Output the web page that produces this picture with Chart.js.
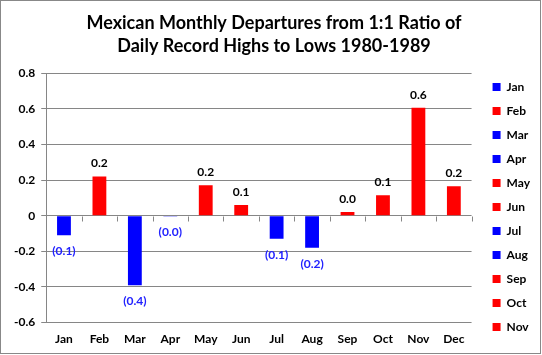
<!DOCTYPE html>
<html>
<head>
<meta charset="utf-8">
<script src="https://cdn.jsdelivr.net/npm/chart.js@4"></script>
<style>
  html, body { margin: 0; padding: 0; background: #fff; }
  #wrap { width: 542px; height: 355px; position: relative; }
</style>
</head>
<body>
<div id="wrap"><canvas id="c" width="542" height="355"></canvas></div>
<script>
const titleLines = ["Mexican Monthly Departures from 1:1 Ratio of", "Daily Record Highs to Lows 1980-1989"];
const categories = ["Jan", "Feb", "Mar", "Apr", "May", "Jun", "Jul", "Aug", "Sep", "Oct", "Nov", "Dec"];
const departures = [-0.11, 0.22, -0.39, -0.005, 0.17, 0.06, -0.13, -0.18, 0.02, 0.115, 0.605, 0.165];
const yTicks = [-0.6, -0.4, -0.2, 0, 0.2, 0.4, 0.6, 0.8];
const legendShown = ["Jan", "Feb", "Mar", "Apr", "May", "Jun", "Jul", "Aug", "Sep", "Oct", "Nov"];

const POS = '#FF0000', NEG = '#0000FF', GRID = '#868686';
const FONT = 'Lato, "Open Sans", sans-serif';
const colors = departures.map(v => v >= 0 ? POS : NEG);

const frame = {
  id: 'frame',
  beforeDraw(chart) {
    const ctx = chart.ctx;
    ctx.save();
    ctx.fillStyle = '#fff';
    ctx.fillRect(0, 0, chart.width, chart.height);
    ctx.restore();
  },
  afterDraw(chart) {
    const ctx = chart.ctx;
    ctx.save();
    ctx.strokeStyle = '#888';
    ctx.lineWidth = 1;
    ctx.strokeRect(0.5, 0.5, chart.width - 2, chart.height - 2);
    ctx.restore();
  }
};

const zeroTicks = {
  id: 'zeroTicks',
  afterDatasetsDraw(chart) {
    const {ctx, chartArea, scales} = chart;
    const y0 = Math.round(scales.y.getPixelForValue(0)) + 0.5;
    const n = categories.length;
    const w = (chartArea.right - chartArea.left) / n;
    ctx.save();
    ctx.strokeStyle = GRID;
    ctx.lineWidth = 1;
    ctx.beginPath();
    for (let i = 1; i <= n; i++) {
      const x = Math.round(chartArea.left + i * w) + 0.5;
      ctx.moveTo(x, y0);
      ctx.lineTo(x, y0 + 5);
    }
    ctx.stroke();
    ctx.restore();
  }
};

const valueLabels = {
  id: 'valueLabels',
  afterDatasetsDraw(chart) {
    const ctx = chart.ctx;
    const meta = chart.getDatasetMeta(0);
    ctx.save();
    ctx.font = 'bold 12px ' + FONT;
    ctx.textAlign = 'center';
    ctx.textBaseline = 'middle';
    meta.data.forEach((bar, i) => {
      const v = departures[i];
      if (v >= 0) {
        ctx.fillStyle = '#000';
        ctx.fillText(v.toFixed(1), bar.x, bar.y - 13);
      } else {
        ctx.fillStyle = '#2222ff';
        ctx.fillText('(' + Math.abs(v).toFixed(1) + ')', bar.x, bar.y + 16);
      }
    });
    ctx.restore();
  }
};

new Chart(document.getElementById('c'), {
  type: 'bar',
  data: {
    labels: categories,
    datasets: [{
      data: departures,
      backgroundColor: colors,
      borderWidth: 0,
      barPercentage: 0.39,
      categoryPercentage: 1.0
    }]
  },
  options: {
    responsive: false,
    animation: false,
    devicePixelRatio: 1,
    layout: { padding: { left: 8, right: 2, top: 0, bottom: 8 } },
    plugins: {
      title: {
        display: true,
        text: titleLines,
        color: '#000',
        font: { family: FONT, size: 18, weight: 'bold', lineHeight: 1.28 },
        padding: { top: 12, bottom: 15 }
      },
      legend: {
        position: 'right',
        align: 'start',
        title: {
          display: true,
          text: '',
          font: { family: FONT, size: 12, lineHeight: 1 },
          padding: { top: 57, bottom: 0 }
        },
        labels: {
          color: '#000',
          font: { family: FONT, size: 12, weight: 'bold' },
          boxWidth: 8,
          boxHeight: 8,
          padding: 12,
          generateLabels: () => legendShown.map(name => {
            const i = categories.indexOf(name);
            return { text: name, fillStyle: colors[i], strokeStyle: colors[i], fontColor: '#000', lineWidth: 0, hidden: false, index: i };
          })
        }
      },
      tooltip: { enabled: false }
    },
    scales: {
      x: {
        grid: { display: false },
        border: { display: false },
        ticks: { color: '#000', font: { family: FONT, size: 12, weight: 'bold' }, padding: 1 }
      },
      y: {
        min: -0.6,
        max: 0.8,
        afterBuildTicks: (axis) => { axis.ticks = yTicks.map(v => ({ value: v })); },
        grid: { color: GRID, tickLength: 5 },
        border: { color: GRID },
        ticks: { color: '#000', font: { family: FONT, size: 12, weight: 'bold' }, padding: 6 }
      },
      yGap: {
        type: 'linear',
        axis: 'y',
        position: 'right',
        display: true,
        grid: { display: false },
        border: { display: false },
        ticks: { display: false },
        afterFit: (s) => { s.width = 9; }
      }
    }
  },
  plugins: [frame, zeroTicks, valueLabels]
});
</script>
</body>
</html>
